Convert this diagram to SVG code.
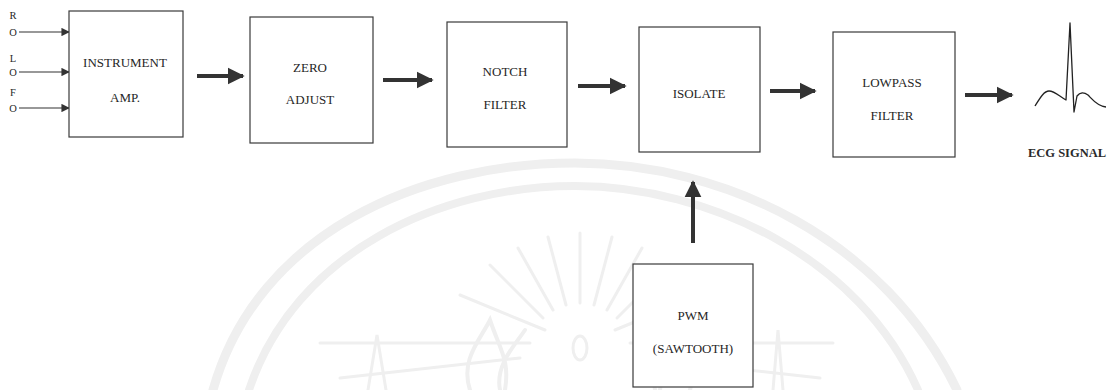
<svg xmlns="http://www.w3.org/2000/svg" width="1116" height="390" viewBox="0 0 1116 390">
  <style>
    .box { fill: #ffffff; stroke: #3a3a3a; stroke-width: 1.2; }
    .lbl { font-family: "Liberation Serif", "Times New Roman", serif; font-size: 13px; fill: #262626; text-anchor: middle; }
    .pin { font-family: "Liberation Serif", "Times New Roman", serif; font-size: 10.5px; fill: #262626; text-anchor: middle; }
    .thick { stroke: #333333; stroke-width: 4; fill: none; }
    .thin { stroke: #333333; stroke-width: 1.2; fill: none; }
    .wm { stroke: #efefef; fill: none; stroke-linecap: round; }
  </style>
  <defs>
    <marker id="bigHead" viewBox="0 0 10 10" refX="9" refY="5" markerWidth="4.2" markerHeight="5" markerUnits="strokeWidth" orient="auto">
      <path d="M0,0 L10,5 L0,10 Z" fill="#333333"/>
    </marker>
    <marker id="smallHead" viewBox="0 0 10 10" refX="9" refY="5" markerWidth="8" markerHeight="7" markerUnits="strokeWidth" orient="auto">
      <path d="M0,0 L10,5 L0,10 Z" fill="#333333"/>
    </marker>
  </defs>

  <rect width="1116" height="390" fill="#ffffff"/>

  <!-- faint background seal -->
  <g id="watermark">
    <path class="wm" stroke-width="9" d="M213,390 C258,232 420,163 575,163 C725,163 885,240 957,390"/>
    <path class="wm" stroke-width="8" d="M249,390 C295,252 440,186 575,186 C710,186 860,258 918,390"/>
    <g stroke-width="3" class="wm">
      <line x1="580" y1="303" x2="580" y2="233"/>
      <line x1="566" y1="305" x2="548" y2="237"/>
      <line x1="594" y1="305" x2="612" y2="237"/>
      <line x1="553" y1="310" x2="518" y2="248"/>
      <line x1="607" y1="310" x2="642" y2="248"/>
      <line x1="543" y1="318" x2="490" y2="265"/>
      <line x1="617" y1="318" x2="670" y2="265"/>
      <line x1="545" y1="330" x2="460" y2="295"/>
      <line x1="615" y1="330" x2="700" y2="295"/>
      <line x1="530" y1="343" x2="320" y2="343"/>
      <line x1="630" y1="343" x2="833" y2="343"/>
      <line x1="520" y1="358" x2="340" y2="378"/>
      <line x1="640" y1="358" x2="820" y2="378"/>
    </g>
    <ellipse class="wm" stroke-width="3" cx="580" cy="348" rx="7" ry="12"/>
    <path class="wm" stroke-width="4" d="M470,390 C460,360 480,340 490,320 C500,350 510,360 505,390 M500,390 C495,365 515,345 525,330"/>
    <path class="wm" stroke-width="4" d="M690,390 C700,360 680,340 670,320 C660,350 650,360 655,390 M660,390 C665,365 645,345 635,330"/>
    <path class="wm" stroke-width="3" d="M368,390 L377,335 L386,390 M783,390 L778,330 L773,390"/>
  </g>

  <!-- connectors -->
  <g id="connectors">
    <line class="thin" x1="19" y1="32" x2="69" y2="32" marker-end="url(#smallHead)"/>
    <line class="thin" x1="19" y1="72" x2="69" y2="72" marker-end="url(#smallHead)"/>
    <line class="thin" x1="19" y1="108" x2="69" y2="108" marker-end="url(#smallHead)"/>
    <line class="thick" x1="197" y1="76" x2="243" y2="76" marker-end="url(#bigHead)"/>
    <line class="thick" x1="383" y1="80" x2="432" y2="80" marker-end="url(#bigHead)"/>
    <line class="thick" x1="578" y1="86" x2="625" y2="86" marker-end="url(#bigHead)"/>
    <line class="thick" x1="770" y1="91" x2="815" y2="91" marker-end="url(#bigHead)"/>
    <line class="thick" x1="965" y1="95" x2="1012" y2="95" marker-end="url(#bigHead)"/>
    <line class="thick" x1="693" y1="243" x2="693" y2="182" marker-end="url(#bigHead)"/>
  </g>

  <!-- electrode inputs -->
  <g id="inputs">
    <text class="pin" x="13" y="19">R</text>
    <text class="pin" x="13" y="36">O</text>
    <text class="pin" x="13" y="62">L</text>
    <text class="pin" x="13" y="76">O</text>
    <text class="pin" x="13" y="96">F</text>
    <text class="pin" x="13" y="112">O</text>
  </g>

  <g id="instrument-amp">
    <rect class="box" x="69" y="11" width="114" height="126"/>
    <text class="lbl" x="125" y="67">INSTRUMENT</text>
    <text class="lbl" x="125" y="102">AMP.</text>
  </g>

  <g id="zero-adjust">
    <rect class="box" x="250" y="17" width="123" height="126"/>
    <text class="lbl" x="310" y="72">ZERO</text>
    <text class="lbl" x="310" y="104">ADJUST</text>
  </g>

  <g id="notch-filter">
    <rect class="box" x="447" y="22" width="120" height="125"/>
    <text class="lbl" x="505" y="76">NOTCH</text>
    <text class="lbl" x="505" y="109">FILTER</text>
  </g>

  <g id="isolate">
    <rect class="box" x="639" y="27" width="121" height="125"/>
    <text class="lbl" x="699" y="98">ISOLATE</text>
  </g>

  <g id="lowpass-filter">
    <rect class="box" x="833" y="32" width="122" height="125"/>
    <text class="lbl" x="892" y="87">LOWPASS</text>
    <text class="lbl" x="892" y="120">FILTER</text>
  </g>

  <g id="pwm">
    <rect class="box" x="633" y="264" width="120" height="123"/>
    <text class="lbl" x="693" y="320">PWM</text>
    <text class="lbl" x="693" y="353">(SAWTOOTH)</text>
  </g>

  <g id="ecg-signal">
    <path d="M1035,106 C1040,98 1044,91 1049,91 C1055,91 1060,97 1066,100 L1070,23 L1074,112 L1077,96 C1080,92 1084,92 1088,95 C1092,99 1097,106 1106,107" fill="none" stroke="#222222" stroke-width="1.3" stroke-linejoin="round"/>
    <text x="1067" y="157" font-family="'Liberation Serif', 'Times New Roman', serif" font-size="12.5" font-weight="bold" fill="#2a2a2a" text-anchor="middle">ECG SIGNAL</text>
  </g>
</svg>
